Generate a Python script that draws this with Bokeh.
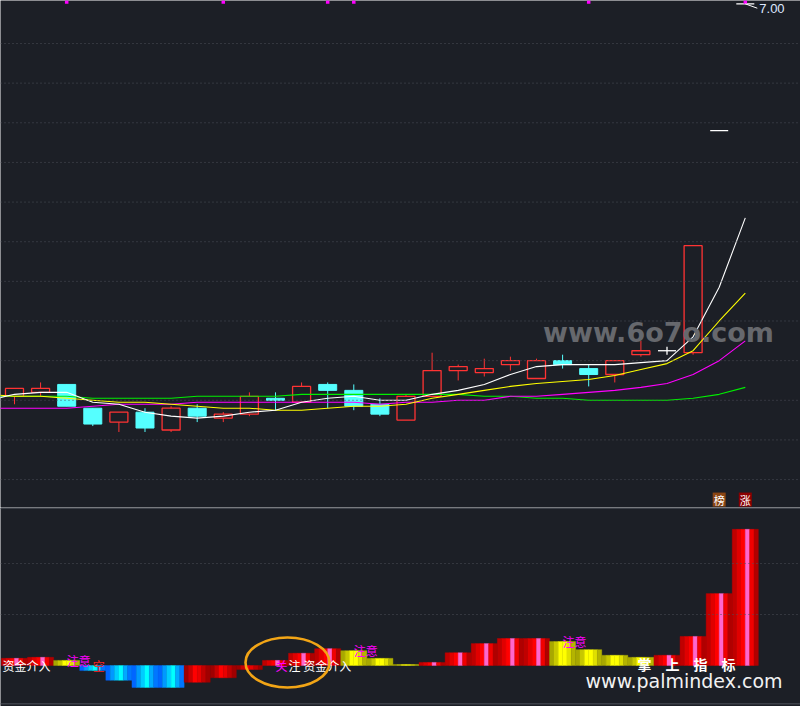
from bokeh.plotting import figure
from bokeh.layouts import column
from bokeh.models import Range1d, Span
from bokeh.core.properties import value
from bokeh.embed import file_html
from bokeh.resources import INLINE

BG = "#1c1f26"
RED = "#ff3333"
CYAN = "#55ffff"

# ---------------- data ----------------
IDX = list(range(29))
OPEN  = [5.02, 5.04, 5.08, 4.96, 4.89, 4.94, 4.85, 4.96, 4.91, 4.93, 5.01, 4.99, 5.08, 5.05, 4.98,
         4.90, 5.02, 5.15, 5.14, 5.18, 5.11, 5.20, 5.16, 5.13, 5.23, 5.25, 5.24, 6.36, 7.00]
HIGH  = [5.06, 5.09, 5.08, 4.96, 4.94, 4.96, 4.97, 4.98, 4.94, 5.04, 5.04, 5.09, 5.09, 5.08, 5.01,
         5.03, 5.24, 5.18, 5.21, 5.22, 5.21, 5.23, 5.18, 5.20, 5.30, 5.27, 5.78, 6.36, 7.00]
LOW   = [4.98, 5.02, 4.97, 4.87, 4.84, 4.84, 4.84, 4.89, 4.89, 4.92, 4.95, 4.99, 4.96, 4.95, 4.92,
         4.90, 5.02, 5.10, 5.12, 5.15, 5.11, 5.16, 5.07, 5.09, 5.22, 5.23, 5.23, 6.36, 7.00]
CLOSE = [5.06, 5.06, 4.97, 4.88, 4.94, 4.86, 4.96, 4.92, 4.93, 5.02, 5.00, 5.07, 5.05, 4.97, 4.93,
         5.02, 5.15, 5.17, 5.16, 5.20, 5.20, 5.18, 5.13, 5.20, 5.25, 5.25, 5.78, 6.36, 7.00]

# moving averages, starting one bar before the first visible candle
MA_IDX = list(range(-1, 29))
MA5  = [5.00, 5.03, 5.04, 5.04, 4.99, 4.98, 4.94, 4.92, 4.91, 4.92, 4.94, 4.95, 4.99, 5.01, 5.02, 5.00,
        5.00, 5.03, 5.05, 5.08, 5.13, 5.17, 5.18, 5.18, 5.18, 5.19, 5.20, 5.32, 5.57, 5.92]
MA10 = [5.03, 5.02, 5.02, 5.01, 5.00, 4.99, 4.99, 4.98, 4.97, 4.96, 4.96, 4.95, 4.95, 4.96, 4.97, 4.97,
        4.98, 5.01, 5.03, 5.05, 5.07, 5.085, 5.095, 5.105, 5.125, 5.155, 5.185, 5.25, 5.40, 5.54]
MA20 = [4.96, 4.96, 4.96, 4.96, 4.97, 4.98, 4.98, 4.98, 4.99, 4.99, 4.99, 4.99, 4.99, 4.99, 4.99, 4.98,
        4.99, 4.99, 5.00, 5.00, 5.02, 5.02, 5.03, 5.04, 5.05, 5.065, 5.085, 5.13, 5.20, 5.30]
MA60 = [5.02, 5.02, 5.02, 5.02, 5.01, 5.01, 5.01, 5.01, 5.02, 5.02, 5.02, 5.02, 5.03, 5.03, 5.03, 5.03,
        5.03, 5.03, 5.03, 5.02, 5.02, 5.01, 5.01, 5.00, 5.00, 5.00, 5.00, 5.01, 5.03, 5.065]

SIGNAL_IDX = [2, 8, 12, 13, 22, 28]
BADGE_IDX = [27, 28]
BADGE_TEXT = ["榜", "涨"]
MAX_LABEL = "7.00"

FLOW = [1.4, 1.6, 1.0, -1.0, -2.9, -4.3, -4.3, -3.3, -2.4, -0.8, 1.0, 2.4, 3.3, 2.9, 1.4,
        0.2, 0.6, 2.5, 4.3, 5.3, 5.3, 4.7, 3.1, 2.0, 1.6, 2.0, 5.7, 14.1, 26.7]
FLOW_KIND = ["r", "r", "y", "b", "b", "b", "b", "d", "d", "d", "r", "r", "r", "y", "y",
             "y", "r", "r", "r", "r", "r", "y", "y", "y", "y", "r", "r", "r", "r"]

LABEL_TEXT = ["资金介入", "注意", "空", "关", "注 资金介入", "注意", "注意"]
LABEL_IDX = [-0.5, 2, 3, 10, 10, 13, 21]
LABEL_VAL = [0, FLOW[2], 0, 0, 0, FLOW[13], FLOW[21]]

PRICE_GRID = [4.6, 4.8, 5.0, 5.2, 5.4, 5.6, 5.8, 6.0, 6.2, 6.4, 6.6, 6.8]
FLOW_GRID = [10, 20]

# ---------------- styles ----------------
LABEL_COLOR = ["#ffffff", "#ff00ff", "#ff2020", "#ff00ff", "#ffffff", "#ff00ff", "#ff00ff"]
LABEL_DX = [1, 0, 0, 0, 13, 0, 0]
STRIPES = {
    "r": ["#c00000", "#e00000", "#ff0000", "#ff66cc", "#f00000", "#b00000"],
    "d": ["#a00000", "#c80000", "#ff0000", "#e80000", "#c00000", "#a00000"],
    "y": ["#a8a800", "#c8c800", "#ffff00", "#ffff00", "#e0e000", "#b4b400"],
    "b": ["#0066ff", "#0099ff", "#00ccff", "#00ffff", "#00aaff", "#0077ff"],
}
BODY_W = 0.69
GRID_COLOR = "#4d515a"
CJK = value("Noto Sans CJK SC")

xr = Range1d(-0.536, 30.115)

main = figure(width=800, height=507, x_range=xr, y_range=Range1d(4.4591, 7.0169),
              output_backend="svg", toolbar_location=None, tools="",
              x_axis_location=None, y_axis_location=None,
              background_fill_color=BG, border_fill_color=BG,
              min_border=0, outline_line_color=None)
main.grid.visible = False

for g in PRICE_GRID:
    main.add_layout(Span(location=g, dimension="width", line_color=GRID_COLOR,
                         line_dash="1 3", line_width=1))

# candles
up = [i for i in IDX if CLOSE[i] > OPEN[i]]
dn = [i for i in IDX if CLOSE[i] < OPEN[i]]
dj = [i for i in IDX if CLOSE[i] == OPEN[i]]

main.segment(up, [HIGH[i] for i in up], up, [CLOSE[i] for i in up], line_color=RED, line_width=1)
main.segment(up, [OPEN[i] for i in up], up, [LOW[i] for i in up], line_color=RED, line_width=1)
main.quad(left=[i - BODY_W / 2 for i in up], right=[i + BODY_W / 2 for i in up],
          top=[CLOSE[i] for i in up], bottom=[OPEN[i] for i in up],
          fill_alpha=0, line_color=RED, line_width=1.3)
main.segment(dn, [HIGH[i] for i in dn], dn, [LOW[i] for i in dn], line_color=CYAN, line_width=1)
main.quad(left=[i - BODY_W / 2 for i in dn], right=[i + BODY_W / 2 for i in dn],
          top=[OPEN[i] for i in dn], bottom=[CLOSE[i] for i in dn],
          fill_color=CYAN, line_color=CYAN, line_width=1)
main.segment([i - BODY_W / 2 for i in dj], [CLOSE[i] for i in dj],
             [i + BODY_W / 2 for i in dj], [CLOSE[i] for i in dj],
             line_color="#ffffff", line_width=1.3)
dw = [i for i in dj if HIGH[i] > LOW[i]]
main.segment(dw, [HIGH[i] for i in dw], dw, [LOW[i] for i in dw], line_color="#ffffff", line_width=1.3)

# moving averages
main.line(MA_IDX, MA60, line_color="#00ee00", line_width=1.1)
main.line(MA_IDX, MA20, line_color="#ff00ff", line_width=1.1)
main.line(MA_IDX, MA10, line_color="#ffff00", line_width=1.1)
main.line(MA_IDX, MA5, line_color="#ffffff", line_width=1.1)

# signal markers at top
top_y = main.y_range.end - 0.008
main.scatter(SIGNAL_IDX, [top_y] * len(SIGNAL_IDX), marker="square", size=3.5,
             color="#ff00ff", line_color=None)

# max label
last = IDX[-1]
main.segment([last], [HIGH[last]], [last + 0.46], [HIGH[last] - 0.022], line_color="#ffffff", line_width=1)
main.text([last], [HIGH[last] - 0.025], text=[MAX_LABEL], x_offset=14,
          text_font=value("Liberation Sans"), text_font_size="13px",
          text_color="#dde8ff", text_baseline="middle", text_align="left")

# watermark
main.text([20.25], [5.342], text=["www.6o7o.com"], text_font=value("DejaVu Sans"),
          text_font_style="bold", text_font_size="27px", text_color="#66686d",
          text_baseline="middle", text_align="left")

# badges
by = main.y_range.start + 0.04
main.rect(BADGE_IDX, [by] * 2, width=13, height=14, width_units="screen", height_units="screen",
          fill_color=["#8a4513", "#8b0000"], line_color=None)
main.text(BADGE_IDX, [by] * 2, text=BADGE_TEXT, text_font=CJK, text_font_size="11px",
          text_color="#ffffff", text_align="center", text_baseline="middle")

# ---------------- lower panel ----------------
low = figure(width=800, height=199, x_range=xr, y_range=Range1d(-8.04, 30.98),
             output_backend="svg", toolbar_location=None, tools="",
             x_axis_location=None, y_axis_location=None,
             background_fill_color=BG, border_fill_color=BG,
             min_border=0, outline_line_color=None)
low.grid.visible = False

for g in FLOW_GRID:
    low.add_layout(Span(location=g, dimension="width", line_color=GRID_COLOR,
                        line_dash="1 3", line_width=1))
low.add_layout(Span(location=30.85, dimension="width", line_color="#3c4048", line_width=1.5))
low.add_layout(Span(location=-7.51, dimension="width", line_color="#3c4048", line_width=1.5))

L, R, T, B, C = [], [], [], [], []
for i, v, kind in zip(IDX, FLOW, FLOW_KIND):
    cols = STRIPES[kind]
    n = len(cols)
    for k, col in enumerate(cols):
        L.append(i - 0.5 + k / n)
        R.append(i - 0.5 + (k + 1) / n)
        T.append(max(v, 0))
        B.append(min(v, 0))
        C.append(col)
low.quad(left=L, right=R, top=T, bottom=B, fill_color=C, line_color=C, line_width=0.4)

low.text(LABEL_IDX, LABEL_VAL, text=LABEL_TEXT, x_offset=LABEL_DX, text_font=CJK,
         text_font_size="12px", text_color=LABEL_COLOR, text_align="left", text_baseline="middle")

# annotation ellipse
low.ellipse([10.46], [0.6], width=84, height=50, width_units="screen", height_units="screen",
            fill_alpha=0, line_color="#f2a516", line_width=2.6)

# bottom watermarks
low.text([23.87], [0.2], text=["掌　上　指　标"], text_font=CJK, text_font_style="bold",
         text_font_size="14px", text_color="#ffffff", text_align="left", text_baseline="middle")
low.text([21.88], [-3.1], text=["www.palmindex.com"], text_font=value("DejaVu Sans"),
         text_font_size="19px", text_color="#f2f2f2", text_align="left", text_baseline="middle")

layout = column(main, low, spacing=0)
open("out.html", "w").write(file_html(layout, INLINE))
